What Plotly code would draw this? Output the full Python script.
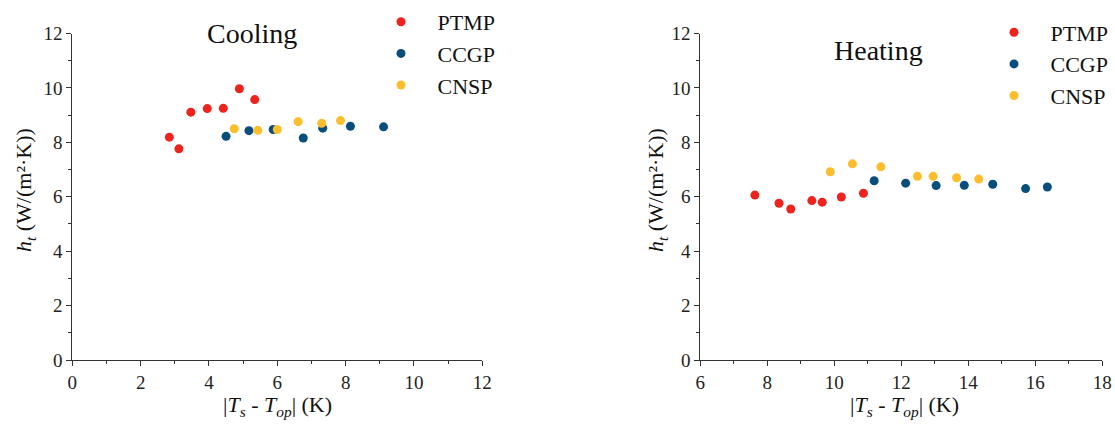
import plotly.graph_objects as go

# ---- data ----
series_names = ["PTMP", "CCGP", "CNSP"]
colors = ["#EE231E", "#084E7D", "#FCBE2D"]

cool_ptmp_x = [2.84, 3.12, 3.47, 3.95, 4.42, 4.89, 5.34]
cool_ptmp_y = [8.19, 7.76, 9.11, 9.24, 9.25, 9.97, 9.57]
cool_ccgp_x = [4.50, 5.17, 5.88, 6.76, 7.33, 8.14, 9.11]
cool_ccgp_y = [8.22, 8.43, 8.47, 8.16, 8.52, 8.59, 8.57]
cool_cnsp_x = [4.74, 5.43, 6.00, 6.61, 7.30, 7.85]
cool_cnsp_y = [8.50, 8.44, 8.47, 8.76, 8.70, 8.80]

heat_ptmp_x = [7.63, 8.35, 8.70, 9.33, 9.64, 10.21, 10.87]
heat_ptmp_y = [6.06, 5.76, 5.55, 5.86, 5.80, 5.99, 6.13]
heat_ccgp_x = [11.19, 12.13, 13.04, 13.88, 14.73, 15.71, 16.36]
heat_ccgp_y = [6.59, 6.50, 6.41, 6.42, 6.46, 6.30, 6.36]
heat_cnsp_x = [9.88, 10.54, 11.39, 12.48, 12.95, 13.65, 14.31]
heat_cnsp_y = [6.92, 7.21, 7.10, 6.75, 6.75, 6.70, 6.65]

panel_titles = ["Cooling", "Heating"]
x_title = "|<i>T</i><sub><i>s</i></sub> - <i>T</i><sub><i>op</i></sub>| (K)"
y_title = "<i>h</i><sub><i>t</i></sub> (W/(m\u00b2\u00b7K))"

FONT = "Liberation Serif, Times New Roman, serif"
W, H = 1115, 426

fig = go.Figure()

cool = [(cool_ptmp_x, cool_ptmp_y), (cool_ccgp_x, cool_ccgp_y), (cool_cnsp_x, cool_cnsp_y)]
heat = [(heat_ptmp_x, heat_ptmp_y), (heat_ccgp_x, heat_ccgp_y), (heat_cnsp_x, heat_cnsp_y)]

pad = "\u00a0\u00a0\u00a0"
for (xs, ys), name, c in zip(cool, series_names, colors):
    fig.add_trace(go.Scatter(x=xs, y=ys, mode="markers", name=pad + name,
                             marker=dict(color=c, size=9, line=dict(width=0)),
                             xaxis="x", yaxis="y", legend="legend"))
for (xs, ys), name, c in zip(heat, series_names, colors):
    fig.add_trace(go.Scatter(x=xs, y=ys, mode="markers", name=pad + name,
                             marker=dict(color=c, size=9, line=dict(width=0)),
                             xaxis="x2", yaxis="y2", legend="legend2"))

def px_x(p):
    return p / W

def px_y(p):
    return 1 - p / H

ydom = [px_y(360), px_y(33.5)]

axis_common = dict(
    showgrid=False, zeroline=False, showline=True, linecolor="#333333", linewidth=1.2,
    ticks="outside", ticklen=5, tickwidth=1.2, tickcolor="#333333",
    tickfont=dict(family=FONT, size=19, color="#222222"),
    minor=dict(ticks="outside", ticklen=3, tickwidth=1, tickcolor="#333333", dtick=1),
    fixedrange=True, automargin=False,
)

fig.update_layout(
    width=W, height=H,
    margin=dict(l=0, r=0, t=0, b=0, autoexpand=False),
    paper_bgcolor="white", plot_bgcolor="white",
    font=dict(family=FONT, color="#111111"),
    xaxis=dict(domain=[px_x(72.3), px_x(482.3)], range=[0, 12], dtick=2, anchor="y", **axis_common),
    yaxis=dict(domain=ydom, range=[0, 12], dtick=2, anchor="x", **axis_common),
    xaxis2=dict(domain=[px_x(700.3), px_x(1102.3)], range=[6, 18], dtick=2, anchor="y2", **axis_common),
    yaxis2=dict(domain=ydom, range=[0, 12], dtick=2, anchor="x2", **axis_common),
    legend=dict(x=px_x(381), y=px_y(1), xanchor="left", yanchor="top", tracegroupgap=0,
                font=dict(family=FONT, size=22, color="#111111"), bgcolor="rgba(0,0,0,0)"),
    legend2=dict(x=px_x(994), y=px_y(11.5), xanchor="left", yanchor="top", tracegroupgap=0,
                 font=dict(family=FONT, size=22, color="#111111"), bgcolor="rgba(0,0,0,0)"),
    showlegend=True,
)

annotations = [
    dict(text=panel_titles[0], x=px_x(252), y=px_y(33), xref="paper", yref="paper",
         showarrow=False, font=dict(family=FONT, size=28, color="#111111"), xanchor="center", yanchor="middle"),
    dict(text=panel_titles[1], x=px_x(878), y=px_y(50), xref="paper", yref="paper",
         showarrow=False, font=dict(family=FONT, size=28, color="#111111"), xanchor="center", yanchor="middle"),
    dict(text=x_title, x=px_x(277), y=px_y(406), xref="paper", yref="paper",
         showarrow=False, font=dict(family=FONT, size=22, color="#111111"), xanchor="center", yanchor="middle"),
    dict(text=x_title, x=px_x(904), y=px_y(406), xref="paper", yref="paper",
         showarrow=False, font=dict(family=FONT, size=22, color="#111111"), xanchor="center", yanchor="middle"),
    dict(text=y_title, x=px_x(25), y=px_y(190), xref="paper", yref="paper", textangle=-90,
         showarrow=False, font=dict(family=FONT, size=22, color="#111111"), xanchor="center", yanchor="middle"),
    dict(text=y_title, x=px_x(657), y=px_y(190), xref="paper", yref="paper", textangle=-90,
         showarrow=False, font=dict(family=FONT, size=22, color="#111111"), xanchor="center", yanchor="middle"),
]
fig.update_layout(annotations=annotations)

fig.write_html("out.html")
